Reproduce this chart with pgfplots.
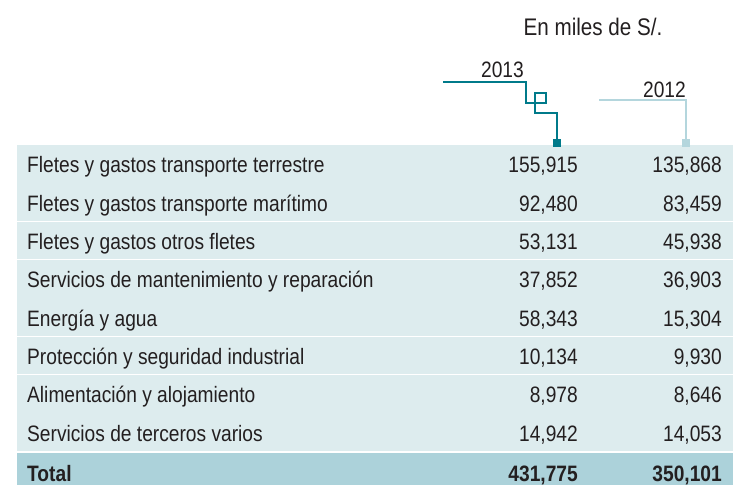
\documentclass[border=0pt]{standalone}
\usepackage{fontspec}
\setmainfont{Liberation Sans}[FakeStretch=0.86]
\usepackage{pgfplots}
\usepackage{pgfplotstable}
\pgfplotsset{compat=1.18}

\definecolor{rowbg}{RGB}{221,236,238}
\definecolor{totbg}{RGB}{172,210,218}
\definecolor{teal13}{RGB}{0,122,138}
\definecolor{lb12}{RGB}{180,214,221}
\definecolor{txt}{RGB}{35,31,32}
\newcommand{\tf}{\fontsize{22.3}{26}\selectfont}
\newcommand{\hf}{\fontsize{24}{28}\selectfont}

\pgfplotstableread[col sep=semicolon]{
label;a;b
Fletes y gastos transporte terrestre;155915;135868
Fletes y gastos transporte marítimo;92480;83459
Fletes y gastos otros fletes;53131;45938
Servicios de mantenimiento y reparación;37852;36903
Energía y agua;58343;15304
Protección y seguridad industrial;10134;9930
Alimentación y alojamiento;8978;8646
Servicios de terceros varios;14942;14053
}\datatable

\pgfplotstableread[col sep=semicolon]{
label;a;b
Total;431775;350101
}\totaltable

\begin{document}
\begin{tikzpicture}
\begin{axis}[
    width=733pt, height=485pt, scale only axis,
    xmin=0, xmax=733, ymin=0, ymax=485, y dir=reverse,
    axis lines=none, clip=false,
    every node near coord/.append style={anchor=base west, inner sep=0pt, font=\tf, text=txt},
  ]
  \path (axis cs:0,0) rectangle (axis cs:733,485);
  % row bands
  \pgfplotsinvokeforeach{0,...,7}{
    \fill[rowbg] (axis cs:17,{145+#1*38.33}) rectangle (axis cs:733,{182.6+#1*38.33});
  }
  \fill[totbg] (axis cs:17,452.8) rectangle (axis cs:733,485);

  % header
  \node[anchor=base, font=\hf, text=txt, inner sep=0pt] at (axis cs:593,35) {En miles de S/.};
  \draw[teal13, line width=1.6pt] (axis cs:443,82) -- (axis cs:526,82) -- (axis cs:526,103)
    -- (axis cs:546,103) -- (axis cs:546,93) -- (axis cs:535,93) -- (axis cs:535,113)
    -- (axis cs:557,113) -- (axis cs:557,143);
  \fill[teal13] (axis cs:553,139) rectangle (axis cs:561,147);
  \draw[lb12, line width=1.6pt] (axis cs:599,100) -- (axis cs:686,100) -- (axis cs:686,143);
  \fill[lb12] (axis cs:682,139) rectangle (axis cs:690,147);
  \node[anchor=base east, font=\tf, text=txt, inner sep=0pt] at (axis cs:524,77) {2013};
  \node[anchor=base east, font=\tf, text=txt, inner sep=0pt] at (axis cs:686,97) {2012};

  % labels
  \addplot[draw=none, mark=none, nodes near coords, point meta=explicit symbolic]
    table[x expr=27, y expr=172.8+38.33*\coordindex, meta=label] {\datatable};
  \addplot[draw=none, mark=none, nodes near coords={\pgfmathprintnumber[fixed,precision=0,1000 sep={,},assume math mode=true]{\pgfplotspointmeta}},
    point meta=explicit, every node near coord/.append style={anchor=base east}]
    table[x expr=578, y expr=172.8+38.33*\coordindex, meta=a] {\datatable};
  \addplot[draw=none, mark=none, nodes near coords={\pgfmathprintnumber[fixed,precision=0,1000 sep={,},assume math mode=true]{\pgfplotspointmeta}},
    point meta=explicit, every node near coord/.append style={anchor=base east}]
    table[x expr=722, y expr=172.8+38.33*\coordindex, meta=b] {\datatable};

  % total
  \addplot[draw=none, mark=none, nodes near coords={\textbf{\pgfplotspointmeta}}, point meta=explicit symbolic]
    table[x expr=27, y expr=481, meta=label] {\totaltable};
  \addplot[draw=none, mark=none, nodes near coords={\bfseries\pgfmathprintnumber[fixed,precision=0,1000 sep={,},assume math mode=true]{\pgfplotspointmeta}},
    point meta=explicit, every node near coord/.append style={anchor=base east}]
    table[x expr=578, y expr=481, meta=a] {\totaltable};
  \addplot[draw=none, mark=none, nodes near coords={\bfseries\pgfmathprintnumber[fixed,precision=0,1000 sep={,},assume math mode=true]{\pgfplotspointmeta}},
    point meta=explicit, every node near coord/.append style={anchor=base east}]
    table[x expr=722, y expr=481, meta=b] {\totaltable};
\end{axis}
\end{tikzpicture}
\end{document}
